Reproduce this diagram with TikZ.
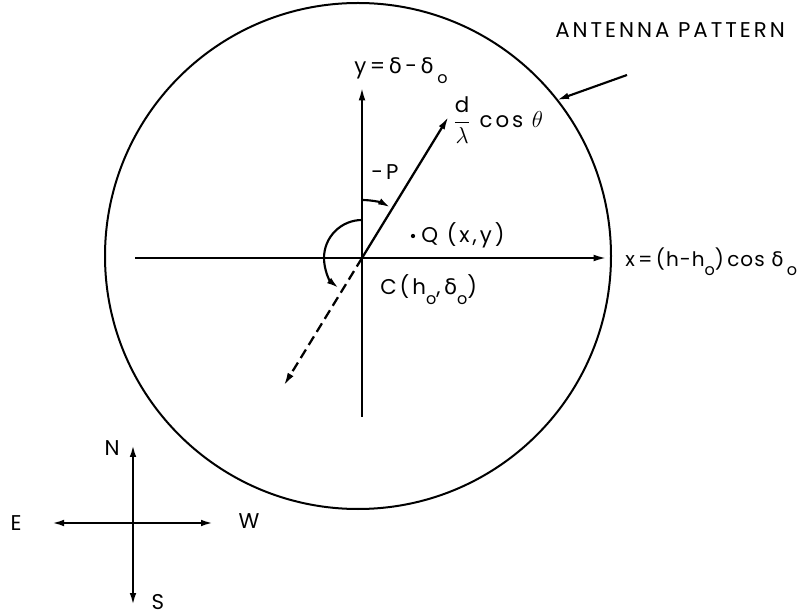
\documentclass[tikz,border=0pt]{standalone}
\usepackage{amsmath}
\usepackage{fontspec}
\setmainfont{Poppins}[LetterSpace=14]
\newfontfamily\tight{Poppins}[LetterSpace=5]
\newfontfamily\grk{DejaVu Sans}
\usepackage{tikz}
\usetikzlibrary{arrows.meta,calc}
\newcommand{\lowo}{\raisebox{-0.8ex}{\fontsize{12}{12}\selectfont o}}
\newcommand{\dlt}{{\grk δ}}

\begin{document}
\begin{tikzpicture}[x=0.75pt, y=0.75pt, every node/.style={font=\fontsize{16}{18}\selectfont, inner sep=0pt}]
\tikzset{axis/.style={line width=1.7pt, -{Latex[length=10pt,width=5pt]}},
  dashaxis/.style={axis, dash pattern=on 7.5pt off 4pt},
  turn/.style={line width=1.6pt, -{Latex[length=9pt,width=5pt]}}}
\useasboundingbox (0,0) rectangle (797,615);
% antenna pattern
\node[circle, draw, line width=1.5pt, minimum size=379.5pt] (pattern) at (358,359) {};
\coordinate (C) at (362,357);
\coordinate (ytop) at (362,528);
\coordinate (ybot) at (362,198);
\coordinate (xleft) at (135,357);
\coordinate (xright) at (607,357);
\coordinate (dtip) at ($(C)+(58.5:166)$);
\coordinate (dback) at ($(C)+(238.5:150)$);
\draw[line width=1.7pt] (ybot) -- (C);
\draw[axis] (C) -- (ytop);
\draw[line width=1.7pt] (xleft) -- (C);
\draw[axis] (C) -- (xright);
\draw[axis] (C) -- (dtip);
\draw[dashaxis] (C) -- (dback);
% angles
\draw[turn] ($(C)+(90:58)$) arc[start angle=90, end angle=61, radius=58];
\draw[turn] ($(C)+(90:38)$) arc[start angle=90, end angle=232, radius=38];
% labels
\node[anchor=base west] (ylab) at (354,541) {y\,=\,\dlt\,-\,\dlt\,\lowo};
\node[anchor=west] (dlab) at (453,495) {$\dfrac{\mathrm{d}}{\lambda}$ cos $\theta$};
\node[anchor=base west] (alab) at (555,577) {ANTENNA PATTERN};
\coordinate (atail) at (627,540);
\coordinate (ahead) at (557,515);
\draw[turn] (atail) -- (ahead);
\node (plab) at (385,443) {-P};
\fill (413,379) circle[radius=1.6pt] coordinate (Q);
\node[anchor=west] (qlab) at (421,380) {Q (x,y)};
\node[anchor=base west, font=\tight\fontsize{15}{17}\selectfont] (xlab) at (625,348) {x\,=\,(h-h\lowo)\,cos\,\,\dlt\,\lowo};
\node[anchor=base west] (clab) at (380,320) {C(h\lowo,\,\dlt\lowo)};
% compass
\coordinate (O) at (133,92);
\coordinate (N) at (133,170);
\coordinate (S) at (133,10);
\coordinate (E) at (52,92);
\coordinate (W) at (213,92);
\draw[turn] (O) -- (N);
\draw[turn] (O) -- (S);
\draw[turn] (O) -- (E);
\draw[turn] (O) -- (W);
\node (nlab) at (112,167) {N};
\node (slab) at (158,13) {S};
\node (elab) at (16,92) {E};
\node (wlab) at (249,94) {W};
\end{tikzpicture}
\end{document}
